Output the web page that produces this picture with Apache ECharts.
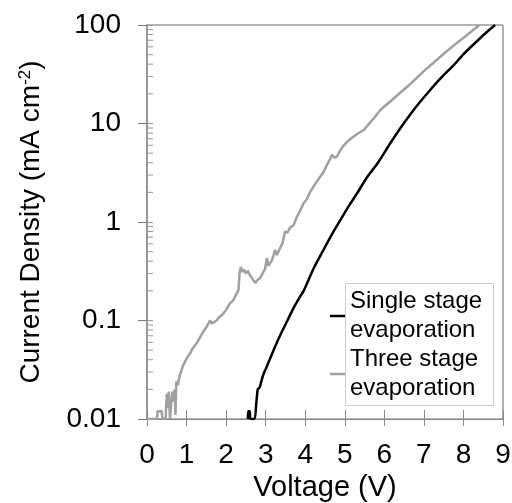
<!DOCTYPE html>
<html><head><meta charset="utf-8">
<script src="https://cdn.jsdelivr.net/npm/echarts@6/dist/echarts.min.js"></script>
<style>html,body{margin:0;padding:0;background:#fff}#c{width:512px;height:503px}</style>
</head><body><div id="c"></div>
<script>
// ---- data ----
const seriesNames = ['Single stage\nevaporation', 'Three stage\nevaporation'];
const xTicks = [0,1,2,3,4,5,6,7,8,9];
const yTickLabels = ['0.01','0.1','1','10','100'];
const yMinorTicks = [0.02,0.03,0.04,0.05,0.06,0.07,0.08,0.09,0.2,0.3,0.4,0.5,0.6,0.7,0.8,0.9,2,3,4,5,6,7,8,9,20,30,40,50,60,70,80,90];
const singleStage = [
 [2.55,0.01],[2.56,0.012],[2.6,0.012],[2.61,0.01],[2.72,0.01],[2.76,0.014],[2.8,0.02],[2.85,0.021],[2.9,0.025],
 [2.95,0.029],[3.0,0.032],[3.1,0.04],[3.2,0.05],[3.3,0.062],[3.45,0.083],[3.6,0.11],[3.7,0.133],[3.85,0.17],
 [3.96,0.2],[4.2,0.33],[4.46,0.52],[4.7,0.78],[4.89,1.05],[5.1,1.45],[5.31,1.95],[5.55,2.8],[5.82,3.9],
 [6.15,6.3],[6.4,8.9],[6.66,12.4],[6.9,16.5],[7.16,21.9],[7.45,29.5],[7.75,39],[8.01,51],[8.3,66],[8.55,82],[8.8,100]
];
const threeStage = [
 [0,0.01],[0.25,0.01],[0.27,0.012],[0.37,0.012],[0.39,0.01],[0.47,0.01],[0.5,0.018],[0.53,0.013],[0.55,0.019],
 [0.58,0.01],[0.62,0.01],[0.64,0.019],[0.67,0.015],[0.7,0.02],[0.72,0.011],[0.74,0.024],[0.78,0.022],[0.82,0.027],
 [0.86,0.03],[0.9,0.034],[0.95,0.035],[1.0,0.041],[1.05,0.044],[1.1,0.047],[1.15,0.052],[1.2,0.055],[1.26,0.059],
 [1.32,0.065],[1.38,0.072],[1.45,0.08],[1.52,0.088],[1.59,0.1],[1.64,0.093],[1.7,0.097],[1.76,0.1],[1.82,0.108],
 [1.88,0.112],[1.93,0.118],[2.0,0.128],[2.1,0.15],[2.18,0.16],[2.27,0.19],[2.31,0.2],[2.34,0.3],[2.37,0.35],
 [2.42,0.31],[2.45,0.33],[2.5,0.3],[2.55,0.32],[2.6,0.29],[2.68,0.26],[2.74,0.24],[2.8,0.26],[2.86,0.27],
 [2.92,0.3],[2.98,0.33],[3.03,0.43],[3.07,0.36],[3.11,0.36],[3.16,0.41],[3.2,0.46],[3.24,0.52],[3.28,0.46],
 [3.32,0.44],[3.38,0.56],[3.43,0.62],[3.49,0.8],[3.55,0.78],[3.62,0.88],[3.7,0.92],[3.79,1.13],[3.87,1.3],
 [3.96,1.55],[4.04,1.7],[4.12,2.0],[4.21,2.3],[4.3,2.6],[4.38,2.9],[4.46,3.2],[4.55,3.8],[4.62,4.3],[4.68,4.8],
 [4.74,4.5],[4.8,4.6],[4.88,5.3],[4.96,5.9],[5.06,6.5],[5.15,7.0],[5.25,7.5],[5.35,8.0],[5.48,8.6],[5.6,9.8],
 [5.75,11.5],[5.9,13.7],[6.05,15.5],[6.2,17.4],[6.4,20.5],[6.6,24],[6.8,28.5],[7.0,34],[7.2,40],[7.4,47],
 [7.6,55],[7.8,64],[8.0,74],[8.2,86],[8.4,100]
];
// ---- chart ----
const font = '"Liberation Sans", Arial, sans-serif';
const chart = echarts.init(document.getElementById('c'), null, {renderer:'canvas'});
const yLabel = v => yTickLabels[Math.round(Math.log10(v)) + 2];
const minorData = yMinorTicks.map(v => [0, v]);
chart.setOption({
  animation: false,
  backgroundColor: '#fff',
  textStyle: {fontFamily: font},
  grid: {left: 147, right: 9, top: 25, bottom: 84, containLabel: false, outerBoundsMode: 'none',
         show: true, borderColor: '#666', borderWidth: 1, backgroundColor: 'transparent'},
  xAxis: [{
    type: 'value', min: 0, max: 9, interval: 1,
    axisLine: {lineStyle: {color: '#888', width: 1}},
    axisTick: {inside: false, length: 7, lineStyle: {color: '#888'}},
    axisLabel: {fontSize: 28, color: '#000', margin: 22, fontFamily: font, formatter: v => String(xTicks[v] ?? v)},
    splitLine: {show: false},
    name: 'Voltage (V)', nameLocation: 'middle', nameGap: 51,
    nameTextStyle: {fontSize: 29, color: '#000', fontFamily: font}
  }, {
    type: 'value', min: 0, max: 9, interval: 1, position: 'bottom',
    axisLine: {show: false}, axisLabel: {show: false}, splitLine: {show: false},
    axisTick: {inside: true, length: 9, lineStyle: {color: '#888'}}
  }],
  yAxis: [{
    type: 'log', logBase: 10, min: 0.01, max: 100,
    axisLine: {lineStyle: {color: '#999', width: 2}},
    axisTick: {inside: false, length: 9, lineStyle: {color: '#777'}},
    axisLabel: {fontSize: 28, color: '#000', margin: 26, fontFamily: font, formatter: yLabel},
    splitLine: {show: false},
    name: 'Current Density (mA cm{sup|-2})', nameLocation: 'middle', nameGap: 102,
    nameTextStyle: {fontSize: 28, color: '#000', fontFamily: font,
      rich: {sup: {fontSize: 17, verticalAlign: 'top', color: '#000', fontFamily: font}}}
  }, {
    type: 'log', logBase: 10, min: 0.01, max: 100, position: 'left',
    axisLine: {show: false}, axisLabel: {show: false}, splitLine: {show: false},
    axisTick: {inside: true, length: 6, lineStyle: {color: '#999'}}
  }],
  legend: {
    data: seriesNames, orient: 'vertical', left: 330, top: 287, padding: 0, itemGap: 0,
    icon: 'rect', itemWidth: 15, itemHeight: 2.5,
    textStyle: {fontSize: 24, lineHeight: 29, color: '#000', fontFamily: font}
  },
  graphic: [{
    type: 'rect', left: 345, top: 283, z: 3,
    shape: {width: 148, height: 122},
    style: {fill: '#fff', stroke: '#ccc', lineWidth: 1}
  }],
  series: [
    {name: seriesNames[0], type: 'line', data: singleStage, showSymbol: false, symbol: 'none', smooth: 0.2,
     lineStyle: {color: '#000', width: 2.5}, itemStyle: {color: '#000'}, z: 5},
    {name: seriesNames[1], type: 'line', data: threeStage, showSymbol: false, symbol: 'none',
     lineStyle: {color: '#a0a0a0', width: 2.5}, itemStyle: {color: '#a0a0a0'}, z: 4},
    {type: 'custom', data: minorData, silent: true, z: 6,
     encode: {x: 0, y: 1},
     renderItem: (params, api) => {
       const p = api.coord([api.value(0), api.value(1)]);
       return {type: 'line', shape: {x1: p[0], y1: p[1], x2: p[0] + 6, y2: p[1]},
               style: {stroke: '#999', lineWidth: 1}};
     }}
  ]
});
</script></body></html>
